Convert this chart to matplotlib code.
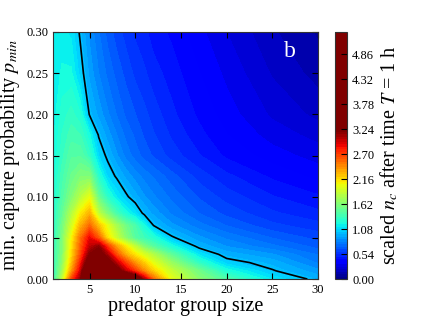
import numpy as np
import matplotlib
matplotlib.use("Agg")
import matplotlib.pyplot as plt

plt.rcParams["font.family"] = ["Liberation Serif", "DejaVu Serif"]
plt.rcParams["mathtext.fontset"] = "stix"

# predator group size (columns) and minimum capture probability (rows)
group_size = [1, 2, 3, 4, 5, 6, 7, 8, 9, 10, 11, 12, 14, 17, 20, 25, 30]
p_min = [0.0, 0.01, 0.02, 0.03, 0.04, 0.05, 0.065, 0.08, 0.10, 0.125, 0.15, 0.175,
         0.20, 0.25, 0.30]

# scaled n_c after T = 1 h, one row per p_min value
row_000 = [1.30, 1.85, 2.65, 3.15, 5.00, 5.30, 4.80, 4.30, 3.95, 3.60, 3.05, 2.55, 2.00, 1.65, 1.42, 1.13, 0.96]
row_001 = [1.30, 1.72, 2.35, 2.95, 4.00, 4.20, 3.80, 3.35, 3.00, 2.72, 2.42, 2.20, 1.88, 1.55, 1.23, 1.01, 0.88]
row_002 = [1.30, 1.66, 2.22, 2.80, 3.45, 3.55, 3.35, 3.00, 2.68, 2.40, 2.20, 2.00, 1.70, 1.30, 1.05, 0.95, 0.80]
row_003 = [1.30, 1.62, 2.15, 2.65, 3.20, 3.35, 3.05, 2.62, 2.30, 2.12, 1.95, 1.80, 1.48, 1.12, 0.95, 0.87, 0.75]
row_004 = [1.30, 1.61, 2.10, 2.58, 3.00, 3.15, 2.70, 2.35, 2.10, 1.85, 1.60, 1.45, 1.22, 0.96, 0.86, 0.77, 0.68]
row_005 = [1.28, 1.60, 2.05, 2.52, 2.90, 2.60, 2.15, 1.88, 1.65, 1.45, 1.35, 1.26, 1.02, 0.88, 0.80, 0.70, 0.63]
row_0065 = [1.27, 1.55, 1.92, 2.30, 2.55, 2.25, 2.00, 1.75, 1.55, 1.40, 1.20, 1.00, 0.88, 0.78, 0.70, 0.61, 0.56]
row_008 = [1.25, 1.50, 1.80, 2.10, 2.30, 1.85, 1.60, 1.38, 1.22, 1.10, 0.97, 0.90, 0.80, 0.70, 0.63, 0.55, 0.50]
row_010 = [1.22, 1.42, 1.62, 1.82, 2.00, 1.52, 1.28, 1.13, 1.02, 0.94, 0.87, 0.82, 0.74, 0.64, 0.57, 0.49, 0.44]
row_0125 = [1.20, 1.38, 1.52, 1.62, 1.62, 1.27, 1.07, 0.98, 0.90, 0.84, 0.79, 0.75, 0.67, 0.57, 0.50, 0.42, 0.36]
row_015 = [1.18, 1.33, 1.45, 1.45, 1.32, 1.08, 0.97, 0.87, 0.79, 0.73, 0.68, 0.64, 0.57, 0.49, 0.42, 0.35, 0.30]
row_0175 = [1.17, 1.30, 1.38, 1.35, 1.20, 0.99, 0.89, 0.81, 0.74, 0.69, 0.64, 0.60, 0.53, 0.45, 0.38, 0.30, 0.25]
row_020 = [1.15, 1.27, 1.32, 1.25, 0.99, 0.90, 0.82, 0.75, 0.69, 0.65, 0.61, 0.57, 0.50, 0.42, 0.35, 0.26, 0.20]
row_025 = [1.14, 1.20, 1.20, 1.05, 0.90, 0.81, 0.74, 0.68, 0.63, 0.58, 0.55, 0.51, 0.46, 0.38, 0.31, 0.21, 0.14]
row_030 = [1.13, 1.15, 1.12, 0.98, 0.85, 0.76, 0.68, 0.62, 0.57, 0.53, 0.50, 0.46, 0.42, 0.34, 0.27, 0.17, 0.10]

n_c = np.array([row_000, row_001, row_002, row_003, row_004, row_005, row_0065,
                row_008, row_010, row_0125, row_015, row_0175, row_020, row_025, row_030])

cbar_ticks = [0.00, 0.54, 1.08, 1.62, 2.16, 2.70, 3.24, 3.78, 4.32, 4.86]
levels = np.arange(0, 5.35, 0.054)

fig = plt.figure(figsize=(4.27, 3.2), dpi=100)
ax = fig.add_axes([0.124, 0.128, 0.621, 0.772])
cax = fig.add_axes([0.785, 0.128, 0.028, 0.772])

X, Y = np.meshgrid(group_size, p_min)
cf = ax.contourf(X, Y, n_c, levels=levels, cmap="jet", vmin=0, vmax=3.2)
ax.contour(X, Y, n_c, levels=[1.0], colors="k", linewidths=1.2)

ax.set_xlim(1, 30)
ax.set_ylim(0, 0.30)
ax.set_xticks([5, 10, 15, 20, 25, 30])
ax.set_yticks([0.0, 0.05, 0.10, 0.15, 0.20, 0.25, 0.30])
ax.yaxis.set_major_formatter(matplotlib.ticker.FormatStrFormatter("%.2f"))
ax.tick_params(direction="in", top=True, right=True, labelsize=9, length=4)
for s in ax.spines.values():
    s.set_color("0.2")
ax.set_xlabel("predator group size", fontsize=14.5, labelpad=1)
ax.set_ylabel(r"min. capture probability $p_{min}$", fontsize=14.5, labelpad=3)
ax.text(26.9, 0.276, "b", color="white", fontsize=17, ha="center", va="center")

cb = fig.colorbar(cf, cax=cax, ticks=cbar_ticks, format="%.2f")
cb.ax.tick_params(direction="in", labelsize=9, length=4)
cb.set_label(r"scaled $n_c$ after time $T$ = 1 h", fontsize=14.5, labelpad=3)
cb.outline.set_edgecolor("0.2")

fig.savefig("out.png", dpi=100)
